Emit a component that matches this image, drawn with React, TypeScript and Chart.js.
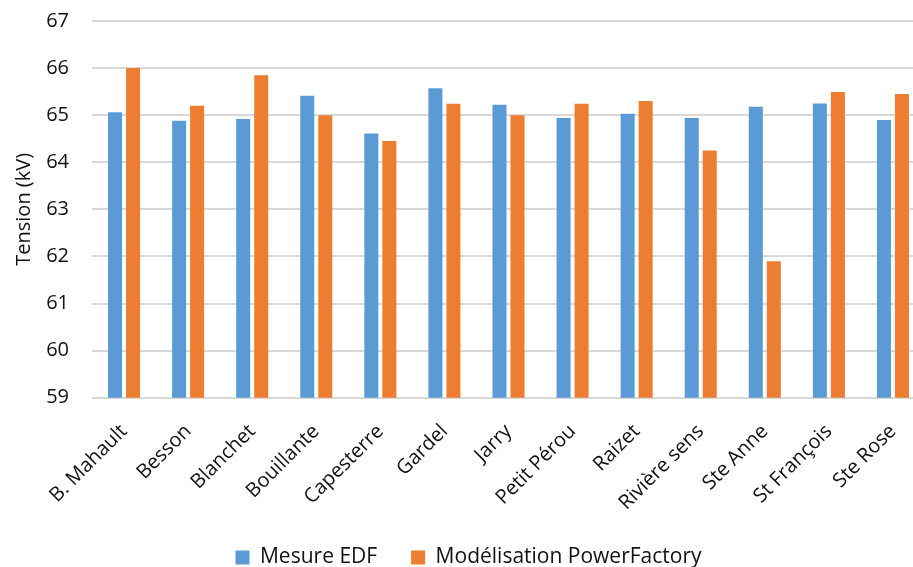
import React, { useEffect, useRef } from 'react';
import { Chart, registerables } from 'chart.js';

Chart.register(...registerables);

const categories = [
  'B. Mahault', 'Besson', 'Blanchet', 'Bouillante', 'Capesterre', 'Gardel', 'Jarry',
  'Petit Pérou', 'Raizet', 'Rivière sens', 'Ste Anne', 'St François', 'Ste Rose',
];
const mesureEDF = [65.06, 64.88, 64.92, 65.41, 64.61, 65.57, 65.22, 64.94, 65.03, 64.94, 65.18, 65.25, 64.9];
const powerFactory = [66.0, 65.2, 65.85, 65.0, 64.45, 65.24, 65.0, 65.24, 65.3, 64.25, 61.9, 65.49, 65.45];
const yMin = 59;
const yMax = 67;
const yStep = 1;
const seriesNames = ['Mesure EDF', 'Modélisation PowerFactory'];
const yTitle = 'Tension (kV)';

export default function App() {
  const ref = useRef<HTMLCanvasElement>(null);
  useEffect(() => {
    const font = { family: 'Open Sans', size: 20 };
    const chart = new Chart(ref.current!, {
      type: 'bar',
      data: {
        labels: categories,
        datasets: [
          { label: seriesNames[0], data: mesureEDF, backgroundColor: '#5B9BD5', categoryPercentage: 0.5625, barPercentage: 0.778 },
          { label: seriesNames[1], data: powerFactory, backgroundColor: '#ED7D31', categoryPercentage: 0.5625, barPercentage: 0.778 },
        ],
      },
      options: {
        animation: false,
        responsive: false,
        maintainAspectRatio: false,
        layout: { padding: { top: 6, right: 10, left: 12, bottom: 0 } },
        plugins: {
          tooltip: { enabled: false },
          legend: {
            position: 'bottom',
            labels: { boxWidth: 14, boxHeight: 14, padding: 34, color: '#111', font: { family: 'Open Sans', size: 21 } },
          },
        },
        scales: {
          x: {
            grid: { display: false, drawTicks: false },
            border: { display: false },
            ticks: { maxRotation: 45, minRotation: 45, color: '#111', font, padding: 22, autoSkip: false },
            afterFit: (scale: any) => { scale.paddingLeft = 0; scale.paddingRight = 0; scale.height -= 24; },
          },
          y: {
            min: yMin,
            max: yMax,
            ticks: { stepSize: yStep, color: '#111', font, padding: 23 },
            grid: { color: '#D9D9D9', lineWidth: 2, drawTicks: false },
            border: { display: false },
            title: { display: true, text: yTitle, color: '#111', font, padding: { top: 0, bottom: 6 } },
            afterFit: (scale: any) => { scale.width = 80; },
          },
        },
      },
    });
    return () => chart.destroy();
  }, []);
  return (
    <div style={{ position: 'absolute', left: 0, top: 0, width: 913, height: 567, overflow: 'hidden', background: '#fff' }}>
      <canvas ref={ref} width={935} height={592} style={{ display: 'block', marginTop: -14 }} />
    </div>
  );
}
